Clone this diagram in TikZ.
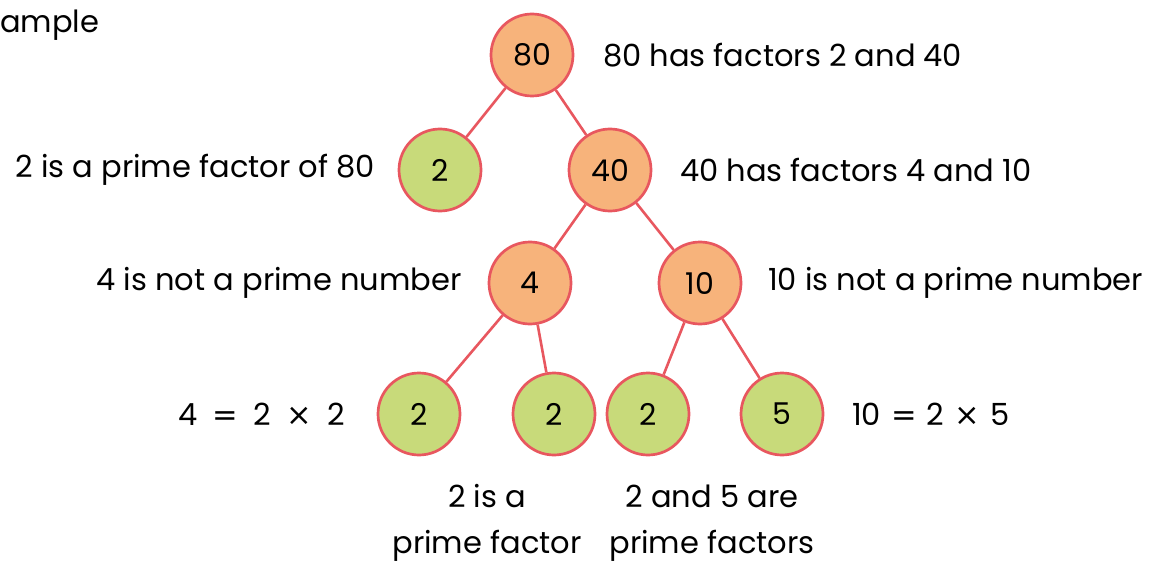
\documentclass[tikz,border=0pt]{standalone}
\usepackage{fontspec}
\setmainfont{Poppins}
\newfontfamily\symfont{DejaVu Sans}
\newcommand{\myeq}[1]{\hspace{#1}{\symfont =}\hspace{#1}}
\newcommand{\mytimes}[1]{\hspace{#1}{\symfont ×}\hspace{#1}}
\begin{document}
\begin{tikzpicture}[x=1pt,y=-1pt,
  fnode/.style={circle,draw=edgered,line width=2.7pt,minimum size=82pt,inner sep=0pt,font=\fontsize{30}{36}\selectfont},
  comp/.style={fnode,fill=orangefill},
  prim/.style={fnode,fill=greenfill},
  link/.style={draw=edgered,line width=2.6pt},
  lbl/.style={font=\fontsize{30.5}{36}\selectfont,inner sep=0pt},
  lbl2/.style={lbl,align=center,font=\fontsize{30.5}{46}\selectfont}]
\definecolor{edgered}{HTML}{E8575F}
\definecolor{orangefill}{HTML}{F7B37B}
\definecolor{greenfill}{HTML}{C8DA7A}
\useasboundingbox (0,0) rectangle (1150,564);
\node[comp] (n80) at (532,55) {80};
\node[prim] (n2a) at (440,170) {2};
\node[comp] (n40) at (610,170) {40};
\node[comp] (n4) at (530,283) {4};
\node[comp] (n10) at (700,283) {10};
\node[prim] (b1) at (419,414) {2};
\node[prim] (b2) at (554,414) {2};
\node[prim] (b3) at (648,414) {2};
\node[prim] (b4) at (782,414) {5};
\draw[link] (n80) -- (n2a);
\draw[link] (n80) -- (n40);
\draw[link] (n40) -- (n4);
\draw[link] (n40) -- (n10);
\draw[link] (n4) -- (b1);
\draw[link] (n4) -- (b2);
\draw[link] (n10) -- (b3);
\draw[link] (n10) -- (b4);
\node[lbl,anchor=west] (t80) at (603,55) {80 has factors 2 and 40};
\node[lbl,anchor=east] (t2) at (375,170) {2 is a prime factor of 80};
\node[lbl,anchor=west] (t40) at (680,170) {40 has factors 4 and 10};
\node[lbl,anchor=east] (t4) at (462,283) {4 is not a prime number};
\node[lbl,anchor=west] (t10) at (768,283) {10 is not a prime number};
\node[lbl,anchor=east] (e4) at (345,414) {4\myeq{0.5em}2\mytimes{0.5em}2};
\node[lbl,anchor=west] (e10) at (852,414) {10\myeq{0.33em}2\mytimes{0.33em}5};
\node[lbl2] (p1) at (487,523) {2 is a\\prime factor};
\node[lbl2] (p2) at (712,523) {2 and 5 are\\prime factors};
\node[lbl,anchor=west] (ex) at (0,25) {ample};
\end{tikzpicture}
\end{document}
